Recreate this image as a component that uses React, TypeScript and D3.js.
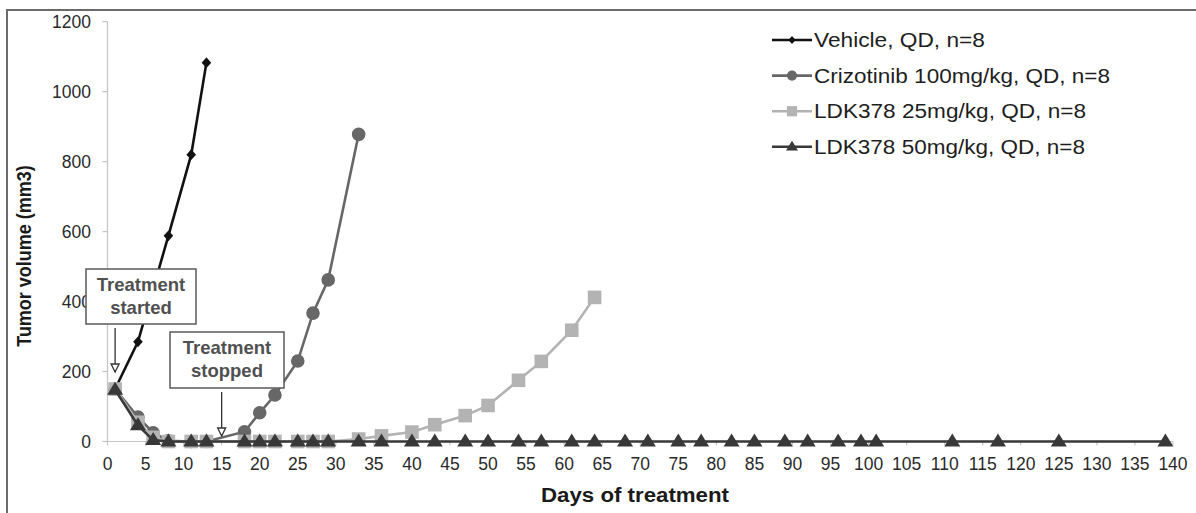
import React from "react";
import * as d3 from "d3";

const vehicleDays = [1, 4, 8, 11, 13];
const vehicleVals = [150, 285, 588, 820, 1083];

const crizoDays = [1, 4, 6, 8, 11, 13, 18, 20, 22, 25, 27, 29, 33];
const crizoVals = [150, 70, 25, 2, 0, 0, 28, 82, 133, 230, 367, 462, 878];

const ldk25Days = [1, 4, 6, 8, 11, 13, 18, 20, 22, 25, 27, 29, 33, 36, 40, 43, 47, 50, 54, 57, 61, 64];
const ldk25Vals = [150, 55, 12, 0, 0, 0, 0, 0, 0, 0, 0, 0, 7, 16, 27, 48, 74, 103, 175, 229, 318, 412];

const ldk50Days = [1, 4, 6, 8, 11, 13, 18, 20, 22, 25, 27, 29, 33, 36, 40, 43, 47, 50, 54, 57, 61, 64, 68, 71, 75, 78, 82, 85, 89, 92, 96, 99, 101, 111, 117, 125, 139];
const ldk50Vals = [148, 46, 4, 0, 0, 0, 0, 0, 0, 0, 0, 0, 0, 0, 0, 0, 0, 0, 0, 0, 0, 0, 0, 0, 0, 0, 0, 0, 0, 0, 0, 0, 0, 0, 0, 0, 0];

const seriesNames = [
  "Vehicle, QD, n=8",
  "Crizotinib 100mg/kg, QD, n=8",
  "LDK378 25mg/kg, QD, n=8",
  "LDK378 50mg/kg, QD, n=8",
];

const xTicks = d3.range(0, 141, 5);
const yTicks = [0, 200, 400, 600, 800, 1000, 1200];

const annotations = [
  { day: 1, lines: ["Treatment", "started"] },
  { day: 15, lines: ["Treatment", "stopped"] },
];

type Shape = "diamond" | "circle" | "square" | "triangle";

function markerPath(shape: Shape, s: number): string {
  if (shape === "diamond") {
    const w = 4.8 * s, h = 5.4 * s;
    return `M0,${-h}L${w},0L0,${h}L${-w},0Z`;
  }
  if (shape === "circle") {
    const r = 6.8 * s;
    return `M${r},0A${r},${r} 0 1,1 ${-r},0A${r},${r} 0 1,1 ${r},0Z`;
  }
  if (shape === "square") {
    const h = 6.8 * s;
    return `M${-h},${-h}H${h}V${h}H${-h}Z`;
  }
  const w = 8 * s, h = 13 * s;
  return `M0,${-h * 0.62}L${w},${h * 0.38}L${-w},${h * 0.38}Z`;
}

export default function App() {
  const x = d3.scaleLinear().domain([0, 140]).range([107.5, 1173]);
  const y = d3.scaleLinear().domain([0, 1200]).range([441.5, 21.7]);

  const series = [
    { days: vehicleDays, vals: vehicleVals, color: "#111111", shape: "diamond" as Shape },
    { days: crizoDays, vals: crizoVals, color: "#676767", shape: "circle" as Shape },
    { days: ldk25Days, vals: ldk25Vals, color: "#b3b3b3", shape: "square" as Shape },
    { days: ldk50Days, vals: ldk50Vals, color: "#383838", shape: "triangle" as Shape },
  ];
  const legendWidths = [171, 296, 272, 271];

  const line = d3
    .line<[number, number]>()
    .x((d) => x(d[0]))
    .y((d) => y(d[1]));

  const font = "'Liberation Sans', Arial, sans-serif";

  const boxes = [
    { x0: 86, y0: 269, w: 110, h: 55, arrowTop: 328, arrowBottom: 372 },
    { x0: 170, y0: 332, w: 114, h: 56, arrowTop: 392, arrowBottom: 436 },
  ];

  return (
    <svg
      width={1196}
      height={513}
      style={{ position: "absolute", left: 0, top: 0, background: "#fff" }}
      fontFamily={font}
    >
      <rect x={0} y={0} width={1196} height={513} fill="#fff" />
      <rect x={7} y={10} width={1200} height={520} fill="none" stroke="#6a6a6a" strokeWidth={2} />

      <line x1={x(0)} x2={x(0)} y1={y(1200)} y2={y(0)} stroke="#c4c4c4" strokeWidth={1.2} />
      <line x1={x(0)} x2={x(140)} y1={y(0)} y2={y(0)} stroke="#c4c4c4" strokeWidth={1.2} />
      {yTicks.map((t) => (
        <g key={"y" + t}>
          <line x1={x(0) - 5} x2={x(0)} y1={y(t)} y2={y(t)} stroke="#c4c4c4" strokeWidth={1.2} />
          <text x={91} y={y(t)} dy="0.36em" textAnchor="end" fontSize={17.5} fill="#2a2a2a">
            {t}
          </text>
        </g>
      ))}
      {xTicks.map((t) => (
        <g key={"x" + t}>
          <line x1={x(t)} x2={x(t)} y1={y(0)} y2={y(0) + 4} stroke="#c4c4c4" strokeWidth={1.2} />
          <text x={x(t)} y={470} textAnchor="middle" fontSize={17.5} fill="#2a2a2a">
            {t}
          </text>
        </g>
      ))}

      <text
        x={541}
        y={502}
        fontSize={20}
        fontWeight="bold"
        fill="#1a1a1a"
        textLength={188}
        lengthAdjust="spacingAndGlyphs"
      >
        Days of treatment
      </text>
      <text
        transform={`translate(31,256) scale(1.13,1) rotate(-90)`}
        textAnchor="middle"
        fontSize={18}
        fontWeight="bold"
        fill="#1a1a1a"
      >
        Tumor volume (mm3)
      </text>

      {series.map((s, i) => {
        const pts: [number, number][] = s.days.map((d, j) => [d, s.vals[j]]);
        return (
          <g key={"s" + i}>
            <path d={line(pts) || ""} fill="none" stroke={s.color} strokeWidth={2.6} />
            {pts.map((p, j) => (
              <path
                key={j}
                d={markerPath(s.shape, 1)}
                transform={`translate(${x(p[0])},${y(p[1])})`}
                fill={s.color}
              />
            ))}
          </g>
        );
      })}

      {annotations.map((a, i) => {
        const b = boxes[i];
        const ax = x(a.day);
        return (
          <g key={"a" + i}>
            <rect x={b.x0} y={b.y0} width={b.w} height={b.h} fill="#fff" stroke="#5a5a5a" strokeWidth={1.5} />
            {a.lines.map((l, k) => (
              <text
                key={k}
                x={b.x0 + b.w / 2}
                y={b.y0 + 22 + k * 23}
                textAnchor="middle"
                fontSize={18.5}
                fontWeight="bold"
                fill="#505050"
              >
                {l}
              </text>
            ))}
            <line x1={ax} x2={ax} y1={b.arrowTop} y2={b.arrowBottom} stroke="#333" strokeWidth={1.3} />
            <path
              d={`M${ax - 4},${b.arrowBottom - 8}L${ax},${b.arrowBottom}L${ax + 4},${b.arrowBottom - 8}Z`}
              fill="#fff"
              stroke="#333"
              strokeWidth={1.3}
            />
          </g>
        );
      })}

      {series.map((s, i) => {
        const ly = 40 + i * 35.6;
        return (
          <g key={"l" + i}>
            <line x1={772} x2={812} y1={ly} y2={ly} stroke={s.color} strokeWidth={2.6} />
            <path d={markerPath(s.shape, 0.75)} transform={`translate(792,${ly})`} fill={s.color} />
            <text
              x={814}
              y={ly}
              dy="0.36em"
              fontSize={19.5}
              fill="#1e1e1e"
              textLength={legendWidths[i]}
              lengthAdjust="spacingAndGlyphs"
            >
              {seriesNames[i]}
            </text>
          </g>
        );
      })}
    </svg>
  );
}
